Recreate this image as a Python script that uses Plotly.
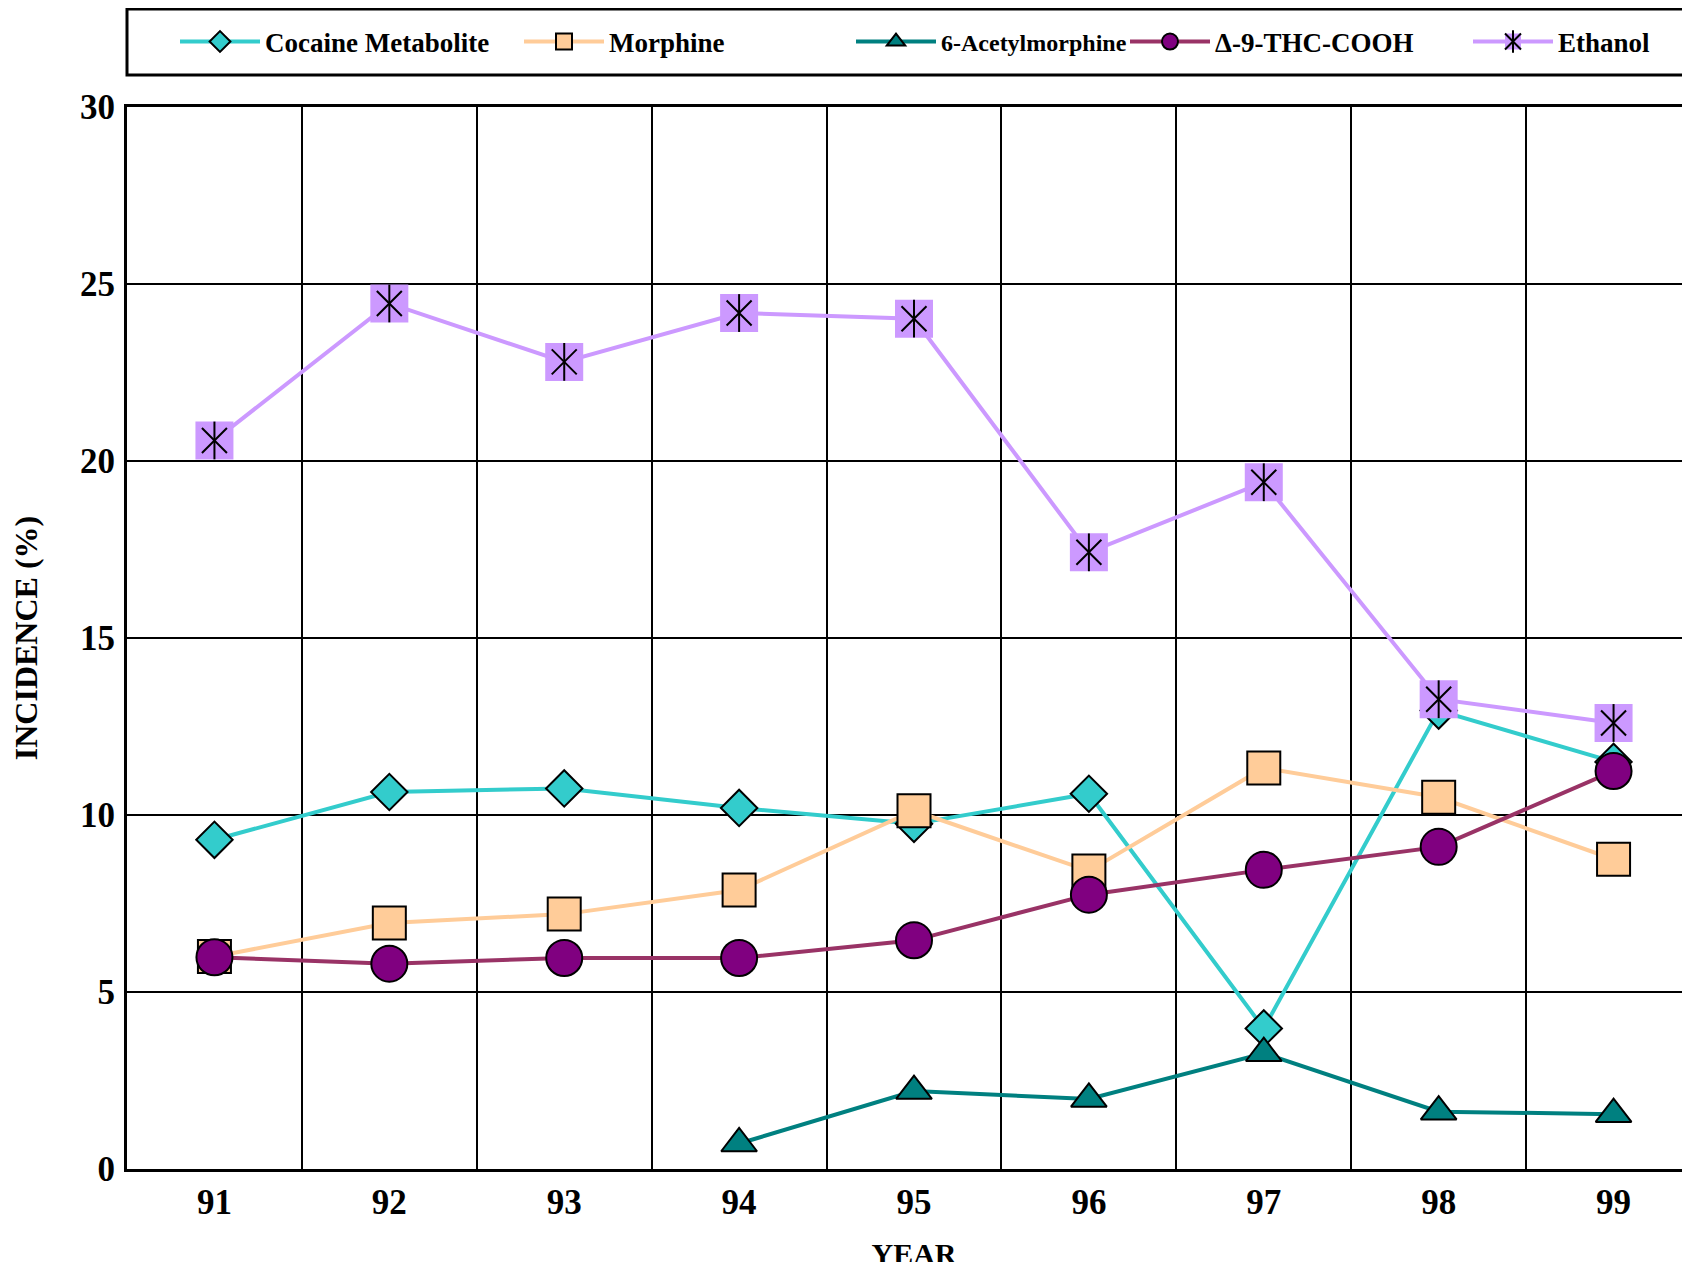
import plotly.graph_objects as go

# ---- data ----
years = ["91", "92", "93", "94", "95", "96", "97", "98", "99"]
cocaine = [9.3, 10.65, 10.75, 10.2, 9.75, 10.6, 3.97, 12.95, 11.5]
morphine = [6.0, 6.95, 7.2, 7.88, 10.12, 8.42, 11.33, 10.5, 8.75]
acetylmorphine = [None, None, None, 0.72, 2.2, 1.98, 3.27, 1.62, 1.55]
thc = [5.98, 5.8, 5.96, 5.96, 6.46, 7.75, 8.45, 9.1, 11.24]
ethanol = [20.58, 24.45, 22.8, 24.18, 24.02, 17.42, 19.4, 13.27, 12.6]

series_names = ["Cocaine Metabolite", "Morphine", "6-Acetylmorphine", "\u0394-9-THC-COOH", "Ethanol"]
y_ticks = [0, 5, 10, 15, 20, 25, 30]

FONT = "Liberation Serif, Times New Roman, serif"

fig = go.Figure()


def add_series(name, y, line_color, marker_color, symbol, size, legend, mlw=2):
    fig.add_trace(go.Scatter(
        x=years, y=y, name=name, mode="lines+markers",
        line=dict(color=line_color, width=4),
        marker=dict(symbol=symbol, size=size, color=marker_color,
                    line=dict(color="black", width=mlw)),
        legend=legend, connectgaps=False,
    ))


add_series(series_names[0], cocaine, "#33CCCC", "#33CCCC", "diamond", 28, "legend")
add_series(series_names[1], morphine, "#FFCC99", "#FFCC99", "square", 33, "legend2")
add_series(series_names[2], acetylmorphine, "#008080", "#008080", "triangle-up", 31, "legend3")
add_series(series_names[3], thc, "#993366", "#800080", "circle", 36, "legend4")
add_series(series_names[4], ethanol, "#CC99FF", "#CC99FF", "square", 38, "legend5", mlw=0)

# asterisk overlay on the ethanol markers (diagonals + vertical stroke)
fig.add_trace(go.Scatter(
    x=years, y=ethanol, name=" ", mode="markers",
    marker=dict(symbol="x-thin-open", size=25, color="black", line=dict(color="black", width=2)),
    legend="legend6", hoverinfo="skip",
))
fig.add_trace(go.Scatter(
    x=years, y=ethanol, name=" ", mode="markers",
    marker=dict(symbol="line-ns-open", size=27, color="black", line=dict(color="black", width=2)),
    legend="legend7", hoverinfo="skip",
))

# ---- layout ----
PAGE_OFF = 8  # browser body margin
W, H = 1693, 1262
ML, MT = 119, 99
MB = H - 1161
plot_w = W - ML
plot_h = H - MT - MB


def px_x(page_px):
    return (page_px - PAGE_OFF - ML) / plot_w


def px_y(page_py):
    return 1 + (MT + PAGE_OFF - page_py) / plot_h


leg_y = px_y(42)
ITEMW = 80
marker_centers = [219, 563, 895, 1169, 1512]
legend_sizes = [27, 27, 24, 27, 27]
legend_keys = ["legend", "legend2", "legend3", "legend4", "legend5"]


def legend_cfg(cx, size):
    return dict(orientation="h", xanchor="left", yanchor="middle", y=leg_y,
                x=px_x(cx - 44), bgcolor="rgba(0,0,0,0)", borderwidth=0,
                font=dict(family=FONT, size=size, color="black", weight="bold"),
                itemwidth=ITEMW, tracegroupgap=0)


layout_legends = {}
for key, cx, sz in zip(legend_keys, marker_centers, legend_sizes):
    layout_legends[key] = legend_cfg(cx, sz)
layout_legends["legend6"] = legend_cfg(marker_centers[4], legend_sizes[4])
layout_legends["legend7"] = legend_cfg(marker_centers[4], legend_sizes[4])

fig.update_layout(
    width=W, height=H,
    margin=dict(l=ML, r=0, t=MT, b=MB, autoexpand=False),
    paper_bgcolor="white", plot_bgcolor="white",
    font=dict(family=FONT, color="black", weight="bold"),
    showlegend=True,
    **layout_legends,
    shapes=[dict(type="rect", xref="paper", yref="paper",
                 x0=0, x1=1.05, y0=px_y(75), y1=px_y(9),
                 line=dict(color="black", width=3), fillcolor="rgba(0,0,0,0)")],
)

fig.update_xaxes(
    type="category", range=[-0.5, 8.5], tickson="boundaries",
    showgrid=True, gridcolor="black", gridwidth=2,
    showline=True, linecolor="black", linewidth=3, mirror=True,
    ticks="", ticklabelstandoff=0,
    tickfont=dict(family=FONT, size=35, color="black", weight="bold"),
    title=dict(text="YEAR", font=dict(family=FONT, size=30, color="black", weight="bold"), standoff=28),
    automargin=False,
)
fig.update_yaxes(
    range=[0, 30], tickvals=y_ticks,
    showgrid=True, gridcolor="black", gridwidth=2, zeroline=False,
    showline=True, linecolor="black", linewidth=3,
    ticks="", ticklabelstandoff=2,
    tickfont=dict(family=FONT, size=35, color="black", weight="bold"),
    title=dict(text="INCIDENCE (%)", font=dict(family=FONT, size=32, color="black", weight="bold"), standoff=38),
    automargin=False,
)

fig.write_html("out.html")
